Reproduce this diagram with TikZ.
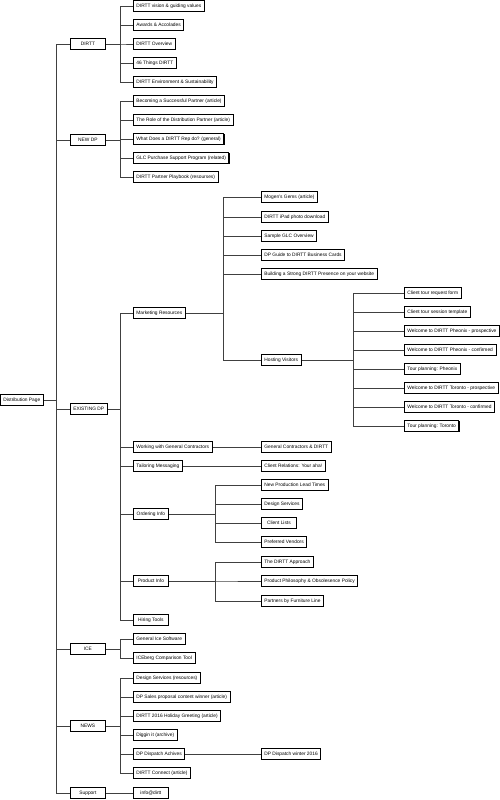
\documentclass[tikz,border=0pt]{standalone}
\usepackage{fontspec}
\setmainfont{Liberation Sans}
\usetikzlibrary{shadows,backgrounds}

\tikzset{
  box/.style={draw=black, line width=0.8pt, fill=white, anchor=west,
    inner xsep=3pt, inner ysep=0pt, minimum height=11.5pt, minimum width=35pt,
    font=\fontsize{4.85}{5.5}\selectfont,
    drop shadow={shadow xshift=0.7pt, shadow yshift=-0.7pt, fill=black, opacity=1}},
  link/.style={draw=black!75, line width=0.6pt}
}

\begin{document}
\begin{tikzpicture}[x=1pt,y=-1pt]
    \useasboundingbox (0,0) rectangle (500,800);
    % buses
    \coordinate (busA) at (56,0);
    \coordinate (busB) at (120,0);
    \coordinate (busM) at (223,0);
    \coordinate (busH) at (353,0);
    \coordinate (busO) at (215,0);

    % root and first level
    \node[box] (root) at (0,400) {Distribution Page};
    \node[box] (dirtt) at (70,44) {DIRTT};
    \node[box] (newdp) at (70,140) {NEW DP};
    \node[box] (existdp) at (70,409) {EXISTING DP};
    \node[box] (ice) at (70,649) {ICE};
    \node[box] (news) at (70,726) {NEWS};
    \node[box] (support) at (70,793) {Support};

    % DIRTT
    \node[box] (d1) at (133,6) {DIRTT vision \& guiding values};
    \node[box] (d2) at (133,25) {Awards \& Accolades};
    \node[box] (d3) at (133,44) {DIRTT Overview};
    \node[box] (d4) at (133,63) {46 Things DIRTT};
    \node[box] (d5) at (133,82) {DIRTT Environment \& Sustainability};

    % NEW DP
    \node[box] (n1) at (133,101) {Becoming a Successful Partner (article)};
    \node[box] (n2) at (133,120) {The Role of the Distribution Partner (article)};
    \node[box] (n3) at (133,139) {What Does a DIRTT Rep do? (general)};
    \node[box] (n4) at (133,158) {GLC Purchase Support Program (related)};
    \node[box] (n5) at (133,177) {DIRTT Partner Playbook (resourses)};

    % EXISTING DP
    \node[box] (mkt) at (133,313) {Marketing Resources};
    \node[box] (gc) at (133,447) {Working with General Contractors};
    \node[box] (tail) at (133,466) {Tailoring Messaging};
    \node[box] (order) at (133,514) {Ordering Info};
    \node[box] (prod) at (133,581) {Product Info};
    \node[box] (hire) at (133,620) {Hiring Tools};

    % Marketing Resources
    \node[box] (m1) at (261,197) {Mogen's Gems (article)};
    \node[box] (m2) at (261,217) {DIRTT iPad photo download};
    \node[box] (m3) at (261,236) {Sample GLC Overview};
    \node[box] (m4) at (261,255) {DP Guide to DIRTT Business Cards};
    \node[box] (m5) at (261,274) {Building a Strong DIRTT Presence on your website};
    \node[box] (host) at (261,360) {Hosting Visitors};

    % Hosting Visitors
    \node[box] (h1) at (404,293) {Client tour request form};
    \node[box] (h2) at (404,312) {Client tour session template};
    \node[box] (h3) at (404,331) {Welcome to DIRTT Pheonix - prospective};
    \node[box] (h4) at (404,350) {Welcome to DIRTT Pheonix - confirmed};
    \node[box] (h5) at (404,369) {Tour planning: Pheonix};
    \node[box] (h6) at (404,388) {Welcome to DIRTT Toronto - prospective};
    \node[box] (h7) at (404,407) {Welcome to DIRTT Toronto - confirmed};
    \node[box] (h8) at (404,426) {Tour planning: Toronto};

    \node[box] (gcd) at (261,447) {General Contractors \& DIRTT};
    \node[box] (aha) at (261,466) {Client Relations: Your aha!};

    % Ordering Info
    \node[box] (o1) at (261,485) {New Production Lead Times};
    \node[box] (o2) at (261,504) {Design Services};
    \node[box] (o3) at (261,523) {Client Lists};
    \node[box] (o4) at (261,542) {Preferred Vendors};

    % Product Info
    \node[box] (p1) at (261,562) {The DIRTT Approach};
    \node[box] (p2) at (261,581) {Product Philosophy \& Obsolesence Policy};
    \node[box] (p3) at (261,601) {Partners by Furniture Line};

    % ICE
    \node[box] (i1) at (133,639) {General Ice Software};
    \node[box] (i2) at (133,658) {ICEberg Comparison Tool};

    % NEWS
    \node[box] (w1) at (133,678) {Design Services (resources)};
    \node[box] (w2) at (133,697) {DP Sales proposal content winner (article)};
    \node[box] (w3) at (133,716) {DIRTT 2016 Holiday Greeting (article)};
    \node[box] (w4) at (133,735) {Diggin it (archive)};
    \node[box] (w5) at (133,754) {DP Dispatch Achives};
    \node[box] (w6) at (133,773) {DIRTT Connect (article)};
    \node[box] (disp) at (261,754) {DP Dispatch winter 2016};

    % Support
    \node[box] (info) at (133,793) {info@dirtt};

    % connectors
    \begin{pgfonlayer}{background}
    \foreach \c in {dirtt,newdp,existdp,ice,news,support}
        \draw[link] (root.east) -- (root.east -| busA) |- (\c.west);
    \foreach \i in {1,...,5}
        \draw[link] (dirtt.east) -- (dirtt.east -| busB) |- (d\i.west);
    \foreach \i in {1,...,5}
        \draw[link] (newdp.east) -- (newdp.east -| busB) |- (n\i.west);
    \foreach \c in {mkt,gc,tail,order,prod,hire}
        \draw[link] (existdp.east) -- (existdp.east -| busB) |- (\c.west);
    \foreach \c in {m1,m2,m3,m4,m5,host}
        \draw[link] (mkt.east) -- (mkt.east -| busM) |- (\c.west);
    \foreach \i in {1,...,8}
        \draw[link] (host.east) -- (host.east -| busH) |- (h\i.west);
    \draw[link] (gc.east) -- (gcd.west);
    \draw[link] (tail.east) -- (aha.west);
    \foreach \i in {1,...,4}
        \draw[link] (order.east) -- (order.east -| busO) |- (o\i.west);
    \foreach \i in {1,...,3}
        \draw[link] (prod.east) -- (prod.east -| busO) |- (p\i.west);
    \foreach \i in {1,2}
        \draw[link] (ice.east) -- (ice.east -| busB) |- (i\i.west);
    \foreach \i in {1,...,6}
        \draw[link] (news.east) -- (news.east -| busB) |- (w\i.west);
    \draw[link] (w5.east) -- (disp.west);
    \draw[link] (support.east) -- (info.west);
    \end{pgfonlayer}
\end{tikzpicture}
\end{document}
